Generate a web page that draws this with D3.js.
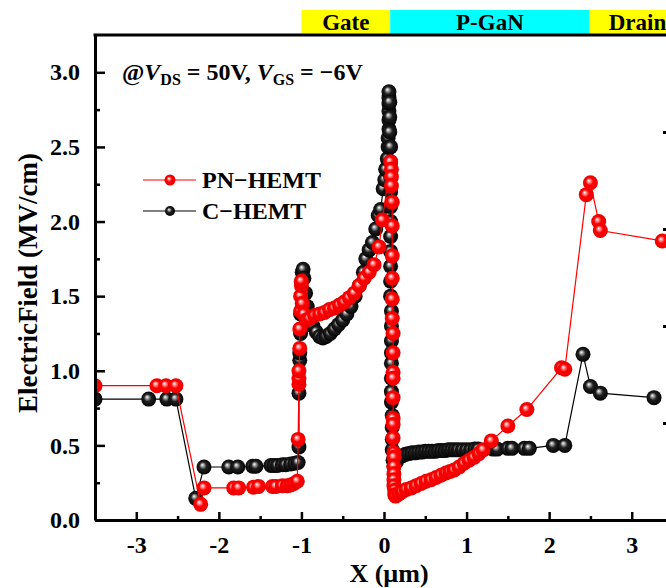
<!DOCTYPE html>
<html>
<head>
<meta charset="utf-8">
<script src="https://cdn.jsdelivr.net/npm/d3@7"></script>
<style>
  html, body { margin: 0; padding: 0; background: #fff; }
  svg { display: block; font-family: "Liberation Serif", "DejaVu Serif", serif; font-weight: bold; }
  .axis path, .axis line { stroke: #000; }
  .axis text { font-size: 24px; font-weight: bold; font-family: "Liberation Serif", serif; fill: #000; }
</style>
</head>
<body>
<svg id="chart" width="666" height="588"></svg>
<script>
// ---- data (x in µm, field in MV/cm) ----
const cHemt = [
  [-3.50,0.81],[-2.85,0.81],[-2.63,0.81],[-2.52,0.81],
  [-2.28,0.145],[-2.18,0.355],
  [-1.88,0.355],[-1.77,0.355],[-1.59,0.36],[-1.55,0.36],[-1.37,0.365],[-1.33,0.365],
  [-1.29,0.365],[-1.23,0.37],[-1.19,0.37],[-1.13,0.375],[-1.08,0.38],[-1.04,0.385],
  [-1.03,0.49],[-1.03,0.85],[-1.02,1.07],[-1.02,1.12],[-1.01,1.25],[-1.01,1.38],
  [-1.00,1.50],[-1.00,1.60],[-0.99,1.66],[-0.98,1.68],
  [-0.97,1.62],[-0.95,1.52],[-0.93,1.43],[-0.90,1.36],[-0.86,1.30],[-0.82,1.26],
  [-0.78,1.23],[-0.74,1.22],[-0.70,1.23],[-0.65,1.25],[-0.60,1.28],[-0.55,1.31],
  [-0.50,1.34],[-0.45,1.38],[-0.40,1.43],[-0.35,1.50],[-0.30,1.57],[-0.25,1.66],
  [-0.22,1.75],[-0.18,1.81],[-0.14,1.86],[-0.10,1.95],[-0.07,2.04],[-0.04,2.08],
  [-0.01,2.22],[0.01,2.28],[0.02,2.35],
  [0.04,2.42],[0.05,2.50],[0.05,2.56],[0.06,2.62],[0.06,2.68],[0.06,2.74],[0.06,2.79],
  [0.06,2.83],[0.06,2.87],
  [0.07,2.80],[0.07,2.70],[0.07,2.60],[0.08,2.50],[0.08,2.40],[0.08,2.30],[0.08,2.20],
  [0.08,2.10],[0.08,2.00],[0.08,1.90],[0.08,1.80],[0.08,1.70],[0.08,1.60],[0.08,1.50],
  [0.09,1.40],[0.09,1.30],[0.09,1.20],[0.09,1.12],[0.09,1.05],[0.09,0.95],[0.09,0.86],
  [0.09,0.79],[0.10,0.70],[0.10,0.62],[0.10,0.54],[0.10,0.47],[0.11,0.40],[0.12,0.36],
  [0.15,0.39],[0.18,0.42],[0.22,0.43],[0.26,0.44],[0.30,0.445],[0.34,0.45],[0.38,0.45],
  [0.42,0.455],[0.46,0.455],[0.50,0.46],[0.54,0.46],[0.58,0.46],[0.62,0.46],[0.66,0.465],
  [0.70,0.465],[0.74,0.465],[0.78,0.47],[0.82,0.47],[0.86,0.47],[0.90,0.47],[0.95,0.47],
  [1.00,0.47],[1.05,0.47],[1.10,0.475],[1.14,0.475],[1.32,0.475],[1.37,0.475],
  [1.50,0.48],[1.55,0.48],[1.70,0.48],[1.76,0.48],[2.05,0.50],[2.19,0.50],
  [2.41,1.11],[2.50,0.895],[2.62,0.85],[3.27,0.82]
];

const pnHemt = [
  [-3.50,0.90],[-2.75,0.90],[-2.64,0.90],[-2.52,0.90],
  [-2.22,0.105],[-2.18,0.215],
  [-1.82,0.215],[-1.76,0.215],[-1.58,0.22],[-1.52,0.225],[-1.35,0.225],[-1.31,0.225],
  [-1.23,0.23],[-1.17,0.23],[-1.13,0.235],[-1.09,0.245],[-1.05,0.26],
  [-1.04,0.54],[-1.03,0.91],[-1.03,0.95],[-1.03,1.00],[-1.02,1.15],[-1.02,1.28],
  [-1.01,1.40],[-1.01,1.50],[-1.00,1.57],[-1.00,1.60],
  [-0.99,1.45],[-0.97,1.38],[-0.94,1.34],[-0.90,1.35],[-0.84,1.37],[-0.78,1.38],
  [-0.72,1.39],[-0.66,1.41],[-0.60,1.42],[-0.54,1.44],[-0.48,1.46],[-0.42,1.49],
  [-0.36,1.52],[-0.30,1.57],[-0.24,1.62],[-0.18,1.66],[-0.12,1.71],[-0.06,1.83],
  [-0.02,2.01],
  [0.08,2.40],[0.09,2.35],[0.09,2.30],[0.09,2.24],[0.10,2.13],[0.10,1.97],[0.10,1.77],
  [0.10,1.62],[0.10,1.48],[0.10,1.35],[0.11,1.25],[0.11,1.12],[0.11,0.99],[0.11,0.95],
  [0.11,0.82],[0.11,0.68],[0.11,0.64],[0.11,0.55],[0.12,0.45],[0.12,0.42],[0.12,0.36],
  [0.12,0.31],[0.12,0.27],[0.12,0.23],[0.13,0.20],[0.13,0.17],[0.14,0.16],
  [0.18,0.175],[0.22,0.19],[0.27,0.205],[0.33,0.215],[0.39,0.23],[0.45,0.245],
  [0.51,0.26],[0.57,0.27],[0.63,0.285],[0.69,0.30],[0.75,0.315],[0.80,0.325],
  [0.85,0.335],[0.91,0.355],[0.97,0.38],[1.03,0.40],[1.09,0.42],[1.15,0.445],
  [1.20,0.47],[1.30,0.53],[1.50,0.63],[1.73,0.74],[2.15,1.02],[2.19,1.01],
  [2.45,2.18],[2.50,2.26],[2.60,2.00],[2.62,1.94],[3.37,1.87]
];

const xTicks = [-3, -2, -1, 0, 1, 2, 3];
const xMinorTicks = [-2.5, -1.5, -0.5, 0.5, 1.5, 2.5];
const yTicks = [0, 0.5, 1.0, 1.5, 2.0, 2.5, 3.0];
const yMinorTicks = [0.25, 0.75, 1.25, 1.75, 2.25, 2.75];
const rightTicks = [1, 2, 3, 4];

// device regions drawn above the plot (µm)
const regionNames = ['Gate', 'P-GaN', 'Drain'];
const regionStart = [-1.0, 0.075, 2.49];
const regionEnd = [0.075, 2.49, 3.65];
const regionColors = ['#ffff00', '#00ffff', '#ffff00'];

const seriesNames = ['PN\u2212HEMT', 'C\u2212HEMT'];

// ---- layout ----
const svg = d3.select('#chart');
const plotLeft = 95, plotRight = 673, plotTop = 35, plotBottom = 520;

const x = d3.scaleLinear().domain([-3.5, 3.5]).range([plotLeft, plotRight]);
const y = d3.scaleLinear().domain([0, 3.25]).range([plotBottom, plotTop]);
const yRight = d3.scaleLinear().domain([0, 5]).range([plotBottom, plotTop]);

// sphere-like marker gradients
const defs = svg.append('defs');
function sphere(id, stops) {
    const g = defs.append('radialGradient')
        .attr('id', id)
        .attr('cx', '0.5').attr('cy', '0.5').attr('r', '0.55')
        .attr('fx', '0.38').attr('fy', '0.35');
    stops.forEach(([o, c]) => g.append('stop').attr('offset', o).attr('stop-color', c));
}
sphere('ballRed', [['0%', '#ffffff'], ['22%', '#ff8080'], ['45%', '#ff0000'], ['85%', '#f00000'], ['100%', '#c00000']]);
sphere('ballBlack', [['0%', '#ffffff'], ['20%', '#9a9a9a'], ['45%', '#202020'], ['100%', '#000000']]);

defs.append('clipPath').attr('id', 'plotClip')
    .append('rect')
    .attr('x', plotLeft).attr('y', plotTop)
    .attr('width', plotRight - plotLeft).attr('height', plotBottom - plotTop);

// region bar
const bar = svg.append('g').attr('class', 'regions');
regionNames.forEach((name, i) => {
    bar.append('rect')
        .attr('x', x(regionStart[i]))
        .attr('y', 10)
        .attr('width', x(regionEnd[i]) - x(regionStart[i]))
        .attr('height', 24)
        .attr('fill', regionColors[i]);
    bar.append('text')
        .attr('x', (x(regionStart[i]) + x(regionEnd[i])) / 2)
        .attr('y', 30)
        .attr('text-anchor', 'middle')
        .attr('font-size', 23)
        .text(name);
});

// series
const line = d3.line().x(d => x(d[0])).y(d => y(d[1]));
const plot = svg.append('g').attr('clip-path', 'url(#plotClip)');

function drawSeries(data, color, grad) {
    plot.append('path')
        .datum(data)
        .attr('d', line)
        .attr('fill', 'none')
        .attr('stroke', color)
        .attr('stroke-width', 1.2);
    plot.append('g').selectAll('circle')
        .data(data)
        .join('circle')
        .attr('cx', d => x(d[0]))
        .attr('cy', d => y(d[1]))
        .attr('r', 7.5)
        .attr('fill', `url(#${grad})`);
}
drawSeries(cHemt, '#000', 'ballBlack');
drawSeries(pnHemt, '#ff0000', 'ballRed');

// axes
const fmtY = d3.format('.1f');

svg.append('g').attr('class', 'axis')
    .attr('transform', `translate(${plotLeft},0)`)
    .call(d3.axisLeft(y).tickValues(yTicks).tickFormat(fmtY).tickSizeInner(-10).tickSizeOuter(0).tickPadding(15))
    .call(g => g.select('.domain').attr('stroke-width', 3))
    .call(g => g.selectAll('.tick line').attr('stroke-width', 2.5));

svg.append('g').attr('class', 'axis')
    .attr('transform', `translate(${plotLeft},0)`)
    .call(d3.axisLeft(y).tickValues(yMinorTicks).tickFormat('').tickSizeInner(-5).tickSizeOuter(0))
    .call(g => g.select('.domain').remove())
    .call(g => g.selectAll('.tick line').attr('stroke-width', 2.5));

svg.append('g').attr('class', 'axis')
    .attr('transform', `translate(0,${plotBottom})`)
    .call(d3.axisBottom(x).tickValues(xTicks).tickFormat(d3.format('d')).tickSizeInner(-8).tickSizeOuter(0).tickPadding(16))
    .call(g => g.select('.domain').attr('stroke-width', 3))
    .call(g => g.selectAll('.tick line').attr('stroke-width', 2.5))
    .call(g => g.selectAll('.tick text').text(d => d < 0 ? '-' + Math.abs(d) : d));

svg.append('g').attr('class', 'axis')
    .attr('transform', `translate(0,${plotBottom})`)
    .call(d3.axisBottom(x).tickValues(xMinorTicks).tickFormat('').tickSizeInner(-4).tickSizeOuter(0))
    .call(g => g.select('.domain').remove())
    .call(g => g.selectAll('.tick line').attr('stroke-width', 2.5));

// right axis sits just outside the window, only its inner ticks show
svg.append('g').attr('class', 'axis')
    .attr('transform', `translate(${plotRight},0)`)
    .call(d3.axisRight(yRight).tickValues(rightTicks).tickFormat('').tickSizeInner(-10).tickSizeOuter(0))
    .call(g => g.selectAll('.tick line').attr('stroke-width', 3))
    .call(g => g.select('.domain').attr('stroke-width', 3));

// top frame line
svg.append('line')
    .attr('x1', plotLeft - 1.5).attr('x2', plotRight)
    .attr('y1', plotTop).attr('y2', plotTop)
    .attr('stroke', '#000').attr('stroke-width', 3);

// axis titles
svg.append('text')
    .attr('transform', `translate(37,283) rotate(-90)`)
    .attr('text-anchor', 'middle')
    .attr('font-size', 27)
    .text('ElectricField (MV/cm)');

svg.append('text')
    .attr('x', 389).attr('y', 582)
    .attr('text-anchor', 'middle')
    .attr('font-size', 26)
    .text('X (\u00b5m)');

// condition label
const cond = svg.append('text').attr('x', 122).attr('y', 80).attr('font-size', 24);
cond.append('tspan').text('@');
cond.append('tspan').attr('font-style', 'italic').text('V');
cond.append('tspan').attr('font-size', 16).attr('dy', 5).text('DS');
cond.append('tspan').attr('dy', -5).text(' = 50V, ');
cond.append('tspan').attr('font-style', 'italic').text('V');
cond.append('tspan').attr('font-size', 16).attr('dy', 5).text('GS');
cond.append('tspan').attr('dy', -5).text(' = \u22126V');

// legend
const legend = svg.append('g').attr('class', 'legend');
[['#ff0000', 'ballRed', 180, 5.5], ['#000', 'ballBlack', 211, 5]].forEach(([color, grad, ly, r], i) => {
    legend.append('line')
        .attr('x1', 143).attr('x2', 196)
        .attr('y1', ly).attr('y2', ly)
        .attr('stroke', color).attr('stroke-width', 1.2);
    legend.append('circle')
        .attr('cx', 170).attr('cy', ly).attr('r', r)
        .attr('fill', `url(#${grad})`);
    legend.append('text')
        .attr('x', 202).attr('y', ly + 8)
        .attr('font-size', 24)
        .text(seriesNames[i]);
});
</script>
</body>
</html>
